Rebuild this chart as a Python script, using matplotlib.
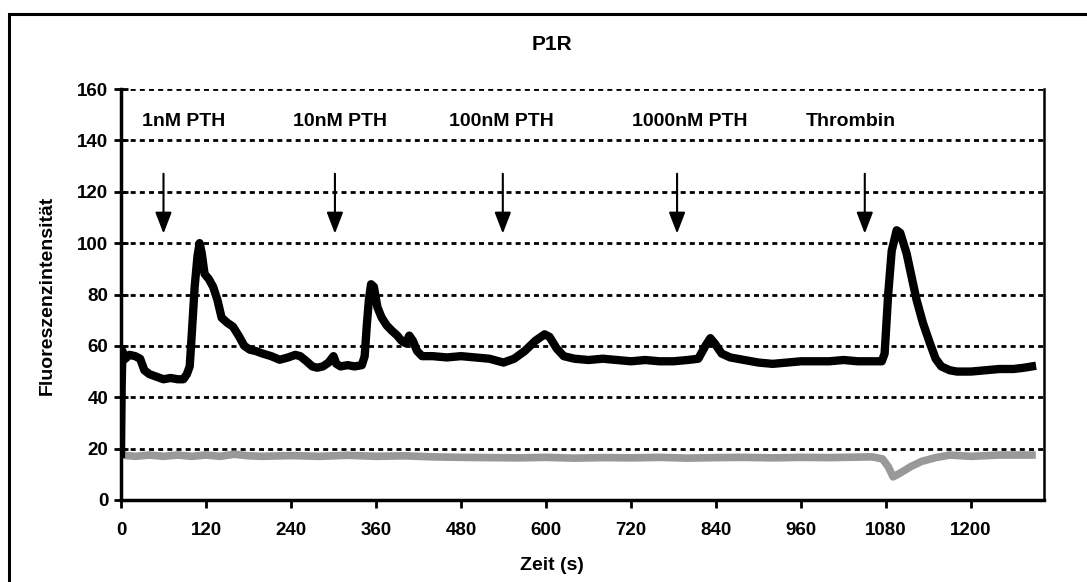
import matplotlib.pyplot as plt
import matplotlib.patches as patches

plt.rcParams['font.family'] = ['Liberation Sans', 'DejaVu Sans']
plt.rcParams['font.weight'] = 'bold'

# P1R trace (black), time in s
t_p1r = [0, 1, 2, 6, 12, 20, 27, 33, 40, 50, 60, 70, 80, 88, 93, 97, 100, 104, 108, 111,
         114, 118, 124, 130, 136, 142, 150, 158, 166, 174, 182, 190, 200, 212, 224, 236,
         246, 253, 262, 270, 277, 285, 293, 300, 304, 310, 320, 330, 340, 344, 347, 350,
         353, 357, 362, 368, 375, 382, 390, 396, 402, 407, 412, 418, 425, 440, 460, 480,
         500, 520, 540, 555, 570, 585, 598, 605, 615, 625, 640, 660, 680, 700, 720, 740,
         760, 780, 800, 815, 825, 832, 838, 848, 860, 880, 900, 920, 940, 960, 980, 1000,
         1020, 1040, 1060, 1074, 1078, 1083, 1088, 1095, 1100, 1109, 1116, 1123, 1132,
         1142, 1150, 1158, 1170, 1180, 1200, 1220, 1240, 1260, 1275, 1286]
v_p1r = [18, 45, 58, 55, 56.5, 56, 55, 50.5, 49, 48, 47, 47.5, 47, 47, 49, 52, 65, 83, 95, 100,
         96, 88, 86, 83, 78, 71, 69, 67.5, 64, 60, 58.5, 58, 57, 56, 54.6, 55.5,
         56.5, 56, 54, 52, 51.5, 52, 53.5, 56, 53, 52, 52.5, 52, 52.5, 56, 68, 78,
         84, 83, 75, 71, 68, 66, 64, 62, 61, 64, 62, 58, 56, 56, 55.5, 56,
         55.5, 55, 53.5, 55, 58, 62, 64.5, 63.5, 59, 56, 55, 54.5, 55, 54.5, 54, 54.5,
         54, 54, 54.5, 55, 60, 63, 61, 57, 55.5, 54.5, 53.5, 53, 53.5, 54, 54, 54,
         54.5, 54, 54, 54, 57, 80, 97, 105, 104, 96, 87, 78, 69,
         61, 55, 52, 50.5, 50, 50, 50.5, 51, 51, 51.5, 52]

# control trace (grey)
t_ctrl = [0, 20, 40, 60, 80, 100, 120, 140, 160, 180, 200, 240, 280, 320, 360, 400, 440,
          480, 520, 560, 600, 640, 680, 720, 760, 800, 840, 880, 920, 960, 1000, 1040,
          1060, 1075, 1083, 1090, 1100, 1115, 1130, 1150, 1170, 1200, 1240, 1286]
v_ctrl = [17.5, 17, 17.5, 17, 17.5, 17, 17.5, 17, 17.8, 17.2, 17, 17.3, 17, 17.4, 17, 17.2, 16.8,
          16.6, 16.5, 16.4, 16.6, 16.3, 16.5, 16.4, 16.6, 16.3, 16.5, 16.6, 16.4, 16.6, 16.5, 16.7,
          16.8, 16, 13, 9, 10.5, 13, 15, 16.5, 17.5, 17, 17.5, 17.5]

# stimulus markers
stim_labels = ['1nM PTH', '10nM PTH', '100nM PTH', '1000nM PTH', 'Thrombin']
stim_text_x = [30, 243, 463, 721, 966]
stim_arrow_x = [60, 302, 539, 785, 1050]

fig = plt.figure(figsize=(10.87, 5.82), dpi=100)
ax = fig.add_axes([121 / 1087, 1 - 500 / 582, (1044 - 121) / 1087, (500 - 89) / 582])

# outer frame
fig.patches.append(patches.Rectangle((9 / 1087, -0.1), 1.2, 1 - 14 / 582 + 0.1,
                                     transform=fig.transFigure, fill=False,
                                     edgecolor='black', linewidth=2.2))

for y in range(20, 161, 20):
    ax.axhline(y, color='black', lw=2, dashes=(1.8, 1.5), zorder=1)

ax.plot(t_ctrl, v_ctrl, color='#999999', lw=5.5, zorder=2)
ax.plot(t_p1r, v_p1r, color='black', lw=6, solid_joinstyle='round', zorder=3)

for lab, tx, axx in zip(stim_labels, stim_text_x, stim_arrow_x):
    ax.text(tx, 147.5, lab, ha='left', va='center', fontsize=14, fontweight='bold')
    ax.annotate('', xy=(axx, 103.7), xytext=(axx, 127),
                arrowprops=dict(arrowstyle='-|>,head_length=0.65,head_width=0.25',
                                mutation_scale=20, color='black', lw=1.5,
                                shrinkA=0, shrinkB=0))

ax.set_xlim(0, 1303)
ax.set_ylim(0, 160)
ax.set_xticks(range(0, 1201, 120))
ax.set_yticks(range(0, 161, 20))
ax.tick_params(axis='x', direction='out', length=6, width=2, labelsize=13.5, pad=10)
ax.tick_params(axis='y', direction='inout', length=10, width=2, labelsize=13.5, pad=4)
ax.spines['top'].set_visible(False)
ax.spines['left'].set_linewidth(2.5)
ax.spines['bottom'].set_linewidth(2.5)
ax.spines['right'].set_linewidth(1.8)

fig.text(552 / 1087, 1 - 45 / 582, 'P1R', ha='center', va='center', fontsize=15, fontweight='bold')
fig.text(47 / 1087, 1 - 295 / 582, 'Fluoreszenzintensität', ha='center', va='center',
         rotation=90, fontsize=14, fontweight='bold')
fig.text(552 / 1087, 1 - 565 / 582, 'Zeit (s)', ha='center', va='center', fontsize=14, fontweight='bold')

fig.savefig('out.png', dpi=100)
